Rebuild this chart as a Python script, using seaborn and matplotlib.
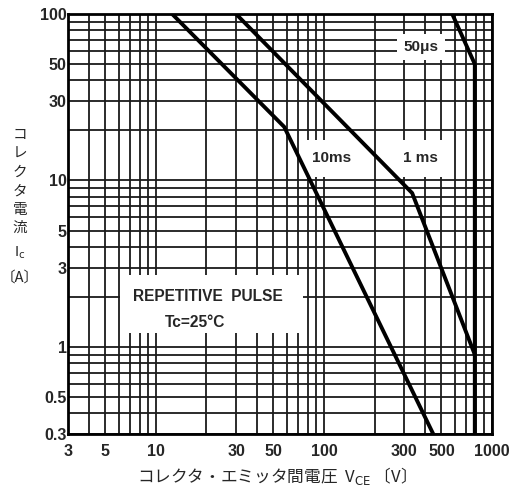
import matplotlib
matplotlib.use('Agg')
import matplotlib.pyplot as plt
import matplotlib.patches as mpatches
import seaborn as sns
import pandas as pd

# safe operating area curves
v_10ms = [12.5, 58, 447]
i_10ms = [100, 21, 0.3]
v_1ms = [30, 335, 790]
i_1ms = [100, 8.4, 0.9]
v_50us = [580, 790, 790]
i_50us = [100, 50, 0.3]

x_ticks = [3, 5, 10, 30, 50, 100, 300, 500, 1000]
x_labels = ['3', '5', '10', '30', '50', '100', '300', '500', '1000']
y_ticks = [0.3, 0.5, 1, 3, 5, 10, 30, 50, 100]
y_labels = ['0.3', '0.5', '1', '3', '5', '10', '30', '50', '100']

rows = []
for name, vs, cs in [('10ms', v_10ms, i_10ms), ('1ms', v_1ms, i_1ms), ('50us', v_50us, i_50us)]:
    for v, c in zip(vs, cs):
        rows.append({'curve': name, 'v': v, 'i': c})
df = pd.DataFrame(rows)

sns.set_style('white')
plt.rcParams['font.family'] = ['Liberation Sans', 'Noto Sans CJK JP', 'DejaVu Sans']

fig = plt.figure(figsize=(5.12, 4.94), dpi=100)
ax = fig.add_axes([68 / 512, 1 - 434 / 494, 424 / 512, 420 / 494])

sns.lineplot(data=df, x='v', y='i', units='curve', estimator=None, sort=False,
             color='black', lw=2.8, ax=ax, zorder=3)

ax.set_xscale('log')
ax.set_yscale('log')
ax.set_xlim(3, 1000)
ax.set_ylim(0.3, 100)

x_grid = [m * d for d in [1, 10, 100] for m in range(1, 10) if 3 <= m * d] + [1000]
y_grid = [m * d for d in [0.1, 1, 10] for m in range(1, 10) if m * d >= 0.29] + [100]
ax.set_xticks(x_grid, minor=True)
ax.set_yticks(y_grid, minor=True)
ax.set_xticks(x_ticks)
ax.set_xticklabels(x_labels)
ax.set_yticks(y_ticks)
ax.set_yticklabels(y_labels)
ax.xaxis.set_minor_formatter(plt.NullFormatter())
ax.yaxis.set_minor_formatter(plt.NullFormatter())
ax.tick_params(which='both', length=0, labelsize=11.5)
ax.tick_params(axis='x', pad=7)
ax.tick_params(axis='y', pad=1)
for lab in ax.get_xticklabels() + ax.get_yticklabels():
    lab.set_fontweight('bold')
ax.grid(which='both', color='#1a1a1a', lw=1.3)
for s in ax.spines.values():
    s.set_linewidth(2)
    s.set_color('black')
ax.set_xlabel('')
ax.set_ylabel('')

# white panel behind the test condition note
ax.add_patch(mpatches.Rectangle((52 / 424, 101 / 420), 183 / 424, 58 / 420,
                                transform=ax.transAxes, facecolor='white',
                                edgecolor='none', zorder=2.5))
ax.text(20.4, 2.0, 'REPETITIVE  PULSE', fontsize=11.2, fontweight='bold',
        ha='center', va='center', zorder=4)
ax.text(17.1, 1.41, 'Tc=25°C', fontsize=11.2, fontweight='bold',
        ha='center', va='center', zorder=4)

ax.text(378, 63.4, '50μs', fontsize=11, fontweight='bold', ha='center', va='center',
        bbox=dict(facecolor='white', edgecolor='none', boxstyle='square,pad=0.4'), zorder=4)
lbl_box = dict(facecolor='white', edgecolor='none', boxstyle='square,pad=0.75')
ax.text(111.7, 13.6, '10ms', fontsize=11, fontweight='bold', ha='center', va='center',
        bbox=lbl_box, zorder=2.6)
ax.text(376, 13.6, '1 ms', fontsize=11, fontweight='bold', ha='center', va='center',
        bbox=lbl_box, zorder=2.6)

jp = ['Noto Sans CJK JP', 'DejaVu Sans']
for ch, y in zip('コレクタ電流', [135, 154, 173, 192, 210, 228]):
    fig.text(20 / 512, 1 - y / 494, ch, family=jp, fontsize=10.5, ha='center', va='center')
fig.text(20 / 512, 1 - 253 / 494, 'I$_{\\rm c}$', fontsize=10.5, ha='center', va='center')
fig.text(20 / 512, 1 - 278 / 494, '〔A〕', family=jp, fontsize=10.5, ha='center', va='center')
fig.text(272 / 512, 1 - 476 / 494, 'コレクタ・エミッタ間電圧  V$_{\\rm CE}$ 〔V〕', family=jp,
         fontsize=12, ha='center', va='center')

fig.savefig('out.png', dpi=100, facecolor='white')
